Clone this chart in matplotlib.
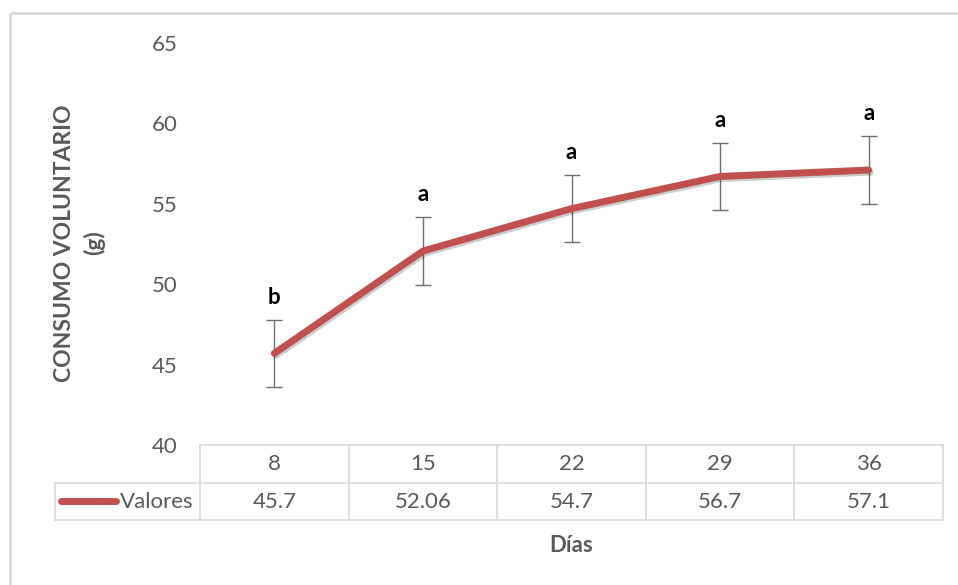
import matplotlib
matplotlib.use("Agg")
import matplotlib.pyplot as plt
import matplotlib.patheffects as pe
from matplotlib.transforms import blended_transform_factory
from matplotlib.patches import Rectangle

plt.rcParams['font.family'] = ['Lato', 'DejaVu Sans']

dias = ["8", "15", "22", "29", "36"]
valores = [45.7, 52.06, 54.7, 56.7, 57.1]
valores_txt = ["45.7", "52.06", "54.7", "56.7", "57.1"]
errores = [2.1, 2.1, 2.1, 2.1, 2.1]
letras = ["b", "a", "a", "a", "a"]
serie = "Valores"
y_ticks = [40, 45, 50, 55, 60, 65]

W, H = 958, 585
fig = plt.figure(figsize=(W / 100, H / 100), dpi=100)

ov = fig.add_axes([0, 0, 1, 1], zorder=0)
ov.set_xlim(0, W)
ov.set_ylim(H, 0)
ov.axis("off")

ov.add_patch(Rectangle((10, 13), 1000, 1000, fill=False, ec="#D9D9D9", lw=2))

left, right, top, bottom = 200, 943, 43, 445
ax = fig.add_axes([left / W, 1 - bottom / H, (right - left) / W, (bottom - top) / H], zorder=2)
ax.patch.set_alpha(0)
x = list(range(len(dias)))
ax.set_xlim(-0.5, len(dias) - 0.5)
ax.set_ylim(40, 65)
ax.set_yticks(y_ticks)
ax.set_yticklabels([str(t) for t in y_ticks])
ax.tick_params(axis="y", length=0, pad=16, labelsize=16, labelcolor="#595959")
ax.set_xticks([])
for s in ax.spines.values():
    s.set_visible(False)

ax.errorbar(x, valores, yerr=errores, fmt="none", ecolor="#6F6F6F", elinewidth=1.0,
            capsize=6, capthick=1.0, zorder=2)
line, = ax.plot(x, valores, color="#C0504D", lw=5, solid_capstyle="round",
                solid_joinstyle="round", zorder=3)
line.set_path_effects([pe.SimpleLineShadow(offset=(1.2, -1.5), alpha=0.2, shadow_color="black"),
                       pe.Normal()])

for xi, v, e, l in zip(x, valores, errores, letras):
    ax.text(xi, v + e + 1.4, l, ha="center", va="center", fontsize=16,
            fontweight="bold", color="black")

grid_c = "#D9D9D9"
r0, r1, r2 = 445, 483, 520
ov.plot([left, right], [r0, r0], color=grid_c, lw=1.2)
ov.plot([55, right], [r1, r1], color=grid_c, lw=1.2)
ov.plot([55, right], [r2, r2], color=grid_c, lw=1.2)
ov.plot([55, 55], [r1, r2], color=grid_c, lw=1.2)
ncol = len(dias)
for i in range(ncol + 1):
    xp = left + (right - left) * i / ncol
    ov.plot([xp, xp], [r0, r2], color=grid_c, lw=1.2)

bt = blended_transform_factory(ax.transData, ov.transData)
for xi, d, vt in zip(x, dias, valores_txt):
    ov.text(xi, (r0 + r1) / 2, d, transform=bt, ha="center", va="center",
            fontsize=16, color="#595959")
    ov.text(xi, (r1 + r2) / 2, vt, transform=bt, ha="center", va="center",
            fontsize=16, color="#595959")

ov.plot([61, 116], [501, 501], color="#C0504D", lw=5, solid_capstyle="round")
ov.text(120, (r1 + r2) / 2, serie, ha="left", va="center", fontsize=16, color="#595959")

ov.text((left + right) / 2, 545, "Días", ha="center", va="center", fontsize=16,
        fontweight="bold", color="#595959")
ov.text(80, 243, "CONSUMO VOLUNTARIO\n(g)", ha="center", va="center", rotation=90,
        fontsize=16.5, fontweight="bold", color="#595959", linespacing=1.45,
        multialignment="center")

fig.savefig("out.png", dpi=100)
